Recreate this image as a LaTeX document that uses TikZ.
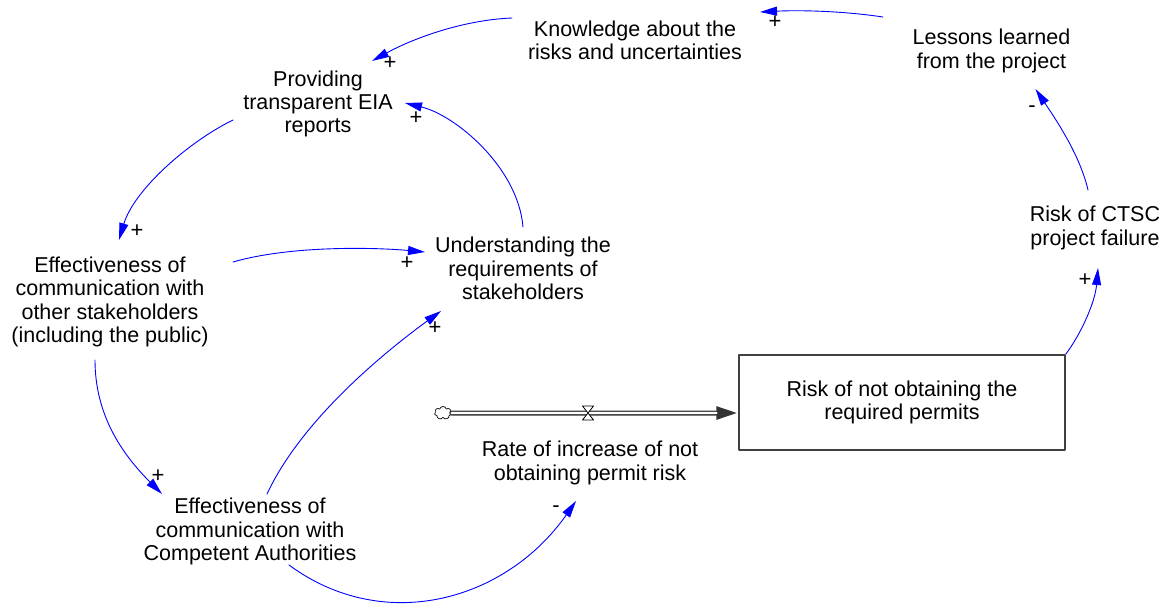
\documentclass[tikz,border=0pt]{standalone}
\usepackage{fontspec}
\setmainfont{Liberation Sans}
\usetikzlibrary{arrows.meta,shapes.symbols}
\definecolor{linkblue}{RGB}{0,0,255}

\begin{document}
\begin{tikzpicture}[x=1pt,y=-1pt,line cap=round,line join=round,
  var/.style={align=center,inner sep=0pt,font=\fontsize{21.5}{23.3}\selectfont},
  stock/.style={var,draw=black!75,line width=1.2pt,minimum width=326pt,minimum height=95pt},
  link/.style={draw=linkblue,line width=0.9pt,-{Triangle[length=17pt,width=9pt]}},
  sign/.style={inner sep=0pt,font=\fontsize{22}{22}\selectfont}]
  \path[use as bounding box] (0,0) rectangle (1174,605);

  % variables, placed at the centres measured on the reference
  \node[var] (know) at (635,40.5) {Knowledge about the\\risks and uncertainties};
  \node[var] (lessons) at (991.5,51) {Lessons learned\\from the project};
  \node[var] (eia) at (318,104) {Providing\\transparent EIA\\reports};
  \node[var] (other) at (110,302) {Effectiveness of\\communication with\\other stakeholders\\(including the public)};
  \node[var] (und) at (523,268.5) {Understanding the\\requirements of\\stakeholders};
  \node[var] (ctsc) at (1095,228) {Risk of CTSC\\project failure};
  \node[stock] (permit) at (902,402.5) {Risk of not obtaining the\\required permits};
  \node[var] (rate) at (590,463) {Rate of increase of not\\obtaining permit risk};
  \node[var] (ca) at (250,531.5) {Effectiveness of\\communication with\\Competent Authorities};

  % inflow: cloud, pipe and valve
  \node[cloud,cloud puffs=7,draw,fill=white,line width=0.7pt,inner sep=0pt,
    minimum width=17pt,minimum height=13pt] (src) at (443,413) {};
  \draw[black!80,line width=5pt,-{Triangle[length=22pt,width=12pt]}] (src.east) -- ([yshift=-10.5pt]permit.west);
  \draw[white,line width=2.4pt] (src.east) -- ([shift={(-22,10.5)}]permit.west);
  \draw[fill=white,line width=0.8pt] (582.5,406) -- (593.5,406) -- (582.5,420) -- (593.5,420) -- cycle;

  % causal links
  \draw[link] ([shift={(-108.5,-34)}]lessons.center) .. controls +(-40,-6) and +(40,-2) .. ([shift={(125,-28.5)}]know.center);
  \draw[link] ([shift={(-123,-22.5)}]know.center) .. controls +(-50,2) and +(40,-22) .. ([shift={(54,-43)}]eia.center);
  \draw[link] ([shift={(0,-41.5)}]und.center) .. controls +(-5,-60) and +(50,12) .. ([shift={(87,-1)}]eia.center);
  \draw[link] ([shift={(-85,16)}]eia.center) .. controls +(-45,22) and +(15,-50) .. ([shift={(9,-62)}]other.center);
  \draw[link] ([shift={(123,-40)}]other.center) .. controls +(55,-16) and +(-55,-5) .. ([shift={(-98,-16.5)}]und.center);
  \draw[link] ([shift={(-15,58)}]other.center) .. controls +(0,55) and +(-40,-40) .. ([shift={(-88,-37.5)}]ca.center);
  \draw[link] ([shift={(17,-37.5)}]ca.center) .. controls +(35,-75) and +(-55,40) .. ([shift={(-82,42.5)}]und.center);
  \draw[link] ([shift={(39,33.5)}]ca.center) .. controls +(95,70) and +(-70,100) .. ([shift={(-14,38)}]rate.center);
  \draw[link] (permit.north east) .. controls +(15,-20) and +(-3,35) .. ([shift={(3,40)}]ctsc.center);
  \draw[link] ([shift={(-7,-38)}]ctsc.center) .. controls +(-8,-35) and +(20,30) .. ([shift={(44,38)}]lessons.center);

  % polarities
  \node[sign] (p1) at (775,22) {+};
  \node[sign] (p2) at (390,63) {+};
  \node[sign] (p3) at (416,118) {+};
  \node[sign] (p4) at (137,231) {+};
  \node[sign] (p5) at (407,263) {+};
  \node[sign] (p6) at (158,476) {+};
  \node[sign] (p7) at (435,328) {+};
  \node[sign] (p8) at (556,509) {-};
  \node[sign] (p9) at (1085,280) {+};
  \node[sign] (p10) at (1032,109) {-};
\end{tikzpicture}
\end{document}
